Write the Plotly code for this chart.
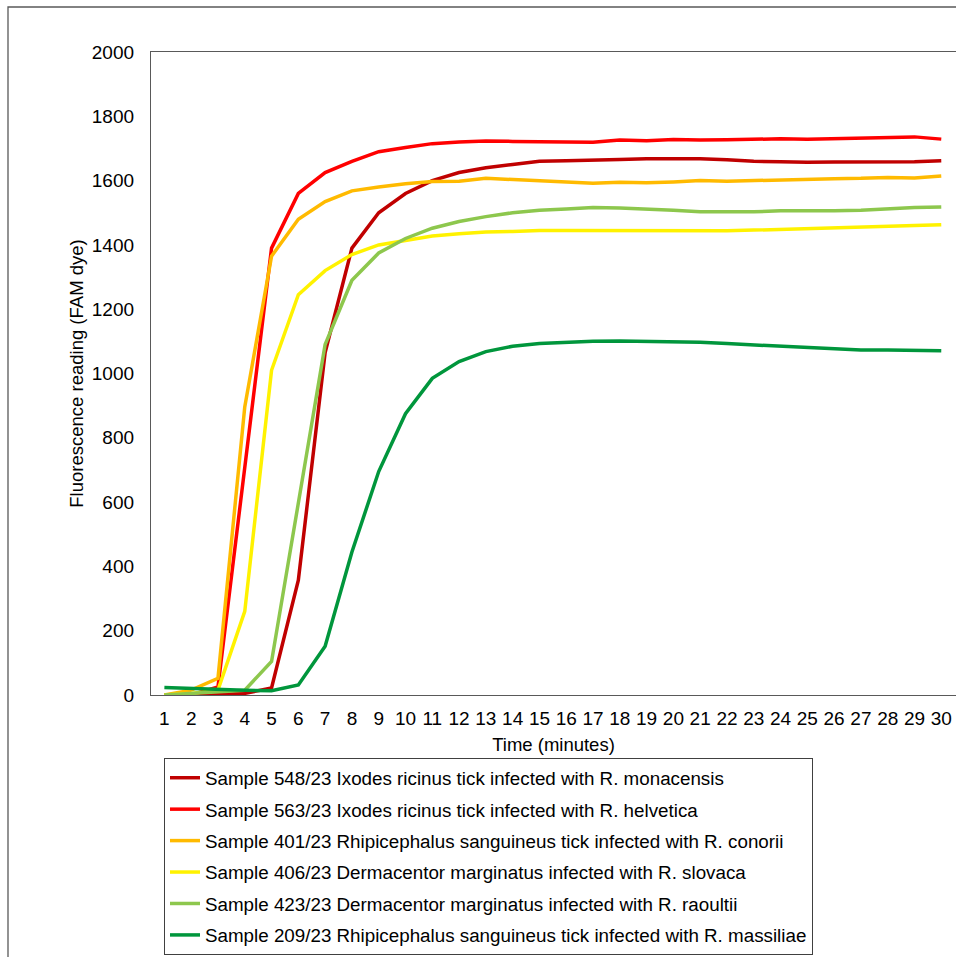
import plotly.graph_objects as go

minutes = list(range(1, 31))

s548 = [0, 0, 2, 5, 22, 357, 1065, 1390, 1500, 1560, 1600, 1625, 1640, 1650, 1660,
        1662, 1665, 1666, 1668, 1669, 1668, 1665, 1660, 1659, 1657, 1658, 1658, 1658, 1659, 1662]
s563 = [0, 0, 25, 710, 1390, 1560, 1625, 1660, 1690, 1703, 1715, 1720, 1723, 1722, 1721,
        1719, 1719, 1726, 1724, 1728, 1726, 1727, 1729, 1730, 1729, 1731, 1732, 1733, 1736, 1729]
s401 = [0, 15, 52, 896, 1365, 1480, 1535, 1568, 1580, 1590, 1597, 1598, 1607, 1603, 1600,
        1596, 1592, 1595, 1593, 1596, 1600, 1598, 1600, 1604, 1604, 1606, 1607, 1610, 1608, 1614]
s406 = [0, 5, 15, 260, 1010, 1245, 1320, 1370, 1400, 1415, 1428, 1435, 1440, 1442, 1445,
        1445, 1445, 1445, 1444, 1443, 1443, 1444, 1446, 1448, 1450, 1452, 1454, 1457, 1460, 1463]
s423 = [0, 5, 10, 15, 104, 600, 1090, 1290, 1375, 1420, 1452, 1473, 1488, 1500, 1508,
        1512, 1516, 1515, 1512, 1508, 1503, 1503, 1503, 1506, 1505, 1506, 1508, 1513, 1516, 1518]
s209 = [23, 20, 16, 15, 13, 31, 152, 445, 695, 875, 985, 1037, 1068, 1085, 1093,
        1097, 1100, 1101, 1100, 1098, 1097, 1093, 1089, 1085, 1080, 1076, 1073, 1073, 1073, 1071]

names = [
    "Sample 548/23 Ixodes ricinus tick infected with R. monacensis",
    "Sample 563/23 Ixodes ricinus tick infected with R. helvetica",
    "Sample 401/23 Rhipicephalus sanguineus tick infected with R. conorii",
    "Sample 406/23 Dermacentor marginatus infected with R. slovaca",
    "Sample 423/23 Dermacentor marginatus infected with R. raoultii",
    "Sample 209/23 Rhipicephalus sanguineus tick infected with R. massiliae",
]
series = [s548, s563, s401, s406, s423, s209]
colors = ["#C00000", "#FF0000", "#FFBA00", "#FFF200", "#8DC74D", "#00963C"]

FONT = "Liberation Sans, Arial, sans-serif"

fig = go.Figure()
for i, (nm, ys, c) in enumerate(zip(names, series, colors)):
    fig.add_trace(go.Scatter(x=minutes, y=ys, name=nm, mode="lines",
                             line=dict(color=c, width=3.5), legendgroup=f"g{i}"))

W, H = 956, 957
L, R, T = 151, 0, 52
B = H - 695
pw = W - L - R
ph = H - T - B

def px(x):
    return (x - L) / pw

def py(y):
    return (H - B - y) / ph

fig.update_layout(
    width=W, height=H,
    margin=dict(l=L, r=R, t=T, b=B),
    paper_bgcolor="white", plot_bgcolor="white",
    font=dict(family=FONT, size=19, color="#000000"),
    showlegend=True,
    legend=dict(x=px(164), y=py(758), xanchor="left", yanchor="top",
                bordercolor="#404040", borderwidth=1, bgcolor="white",
                font=dict(family=FONT, size=18.8, color="#000000"),
                tracegroupgap=4, traceorder="grouped"),
    xaxis=dict(range=[0.5, 30.55], tickmode="linear", tick0=1, dtick=1,
               showgrid=False, zeroline=False, showline=True, linecolor="#595959",
               linewidth=1.3, mirror=True, ticks="", ticklabelstandoff=6,
               title=dict(text="Time (minutes)", font=dict(size=18.5), standoff=10)),
    yaxis=dict(range=[0, 2000], tickmode="linear", tick0=0, dtick=200,
               showgrid=False, zeroline=False, showline=True, linecolor="#595959",
               linewidth=1.3, mirror=True, ticks="", ticklabelstandoff=12,
               title=dict(text="Fluorescence reading (FAM dye)", font=dict(size=18.5), standoff=3)),
    shapes=[dict(type="rect", xref="paper", yref="paper",
                 x0=px(8), x1=px(1000), y0=py(1000), y1=py(7),
                 line=dict(color="#595959", width=1.3), fillcolor="rgba(0,0,0,0)", layer="below")],
)

fig.write_html("out.html", config={"displayModeBar": False},
               post_script="document.body.style.margin='0';document.body.style.overflow='hidden';")
